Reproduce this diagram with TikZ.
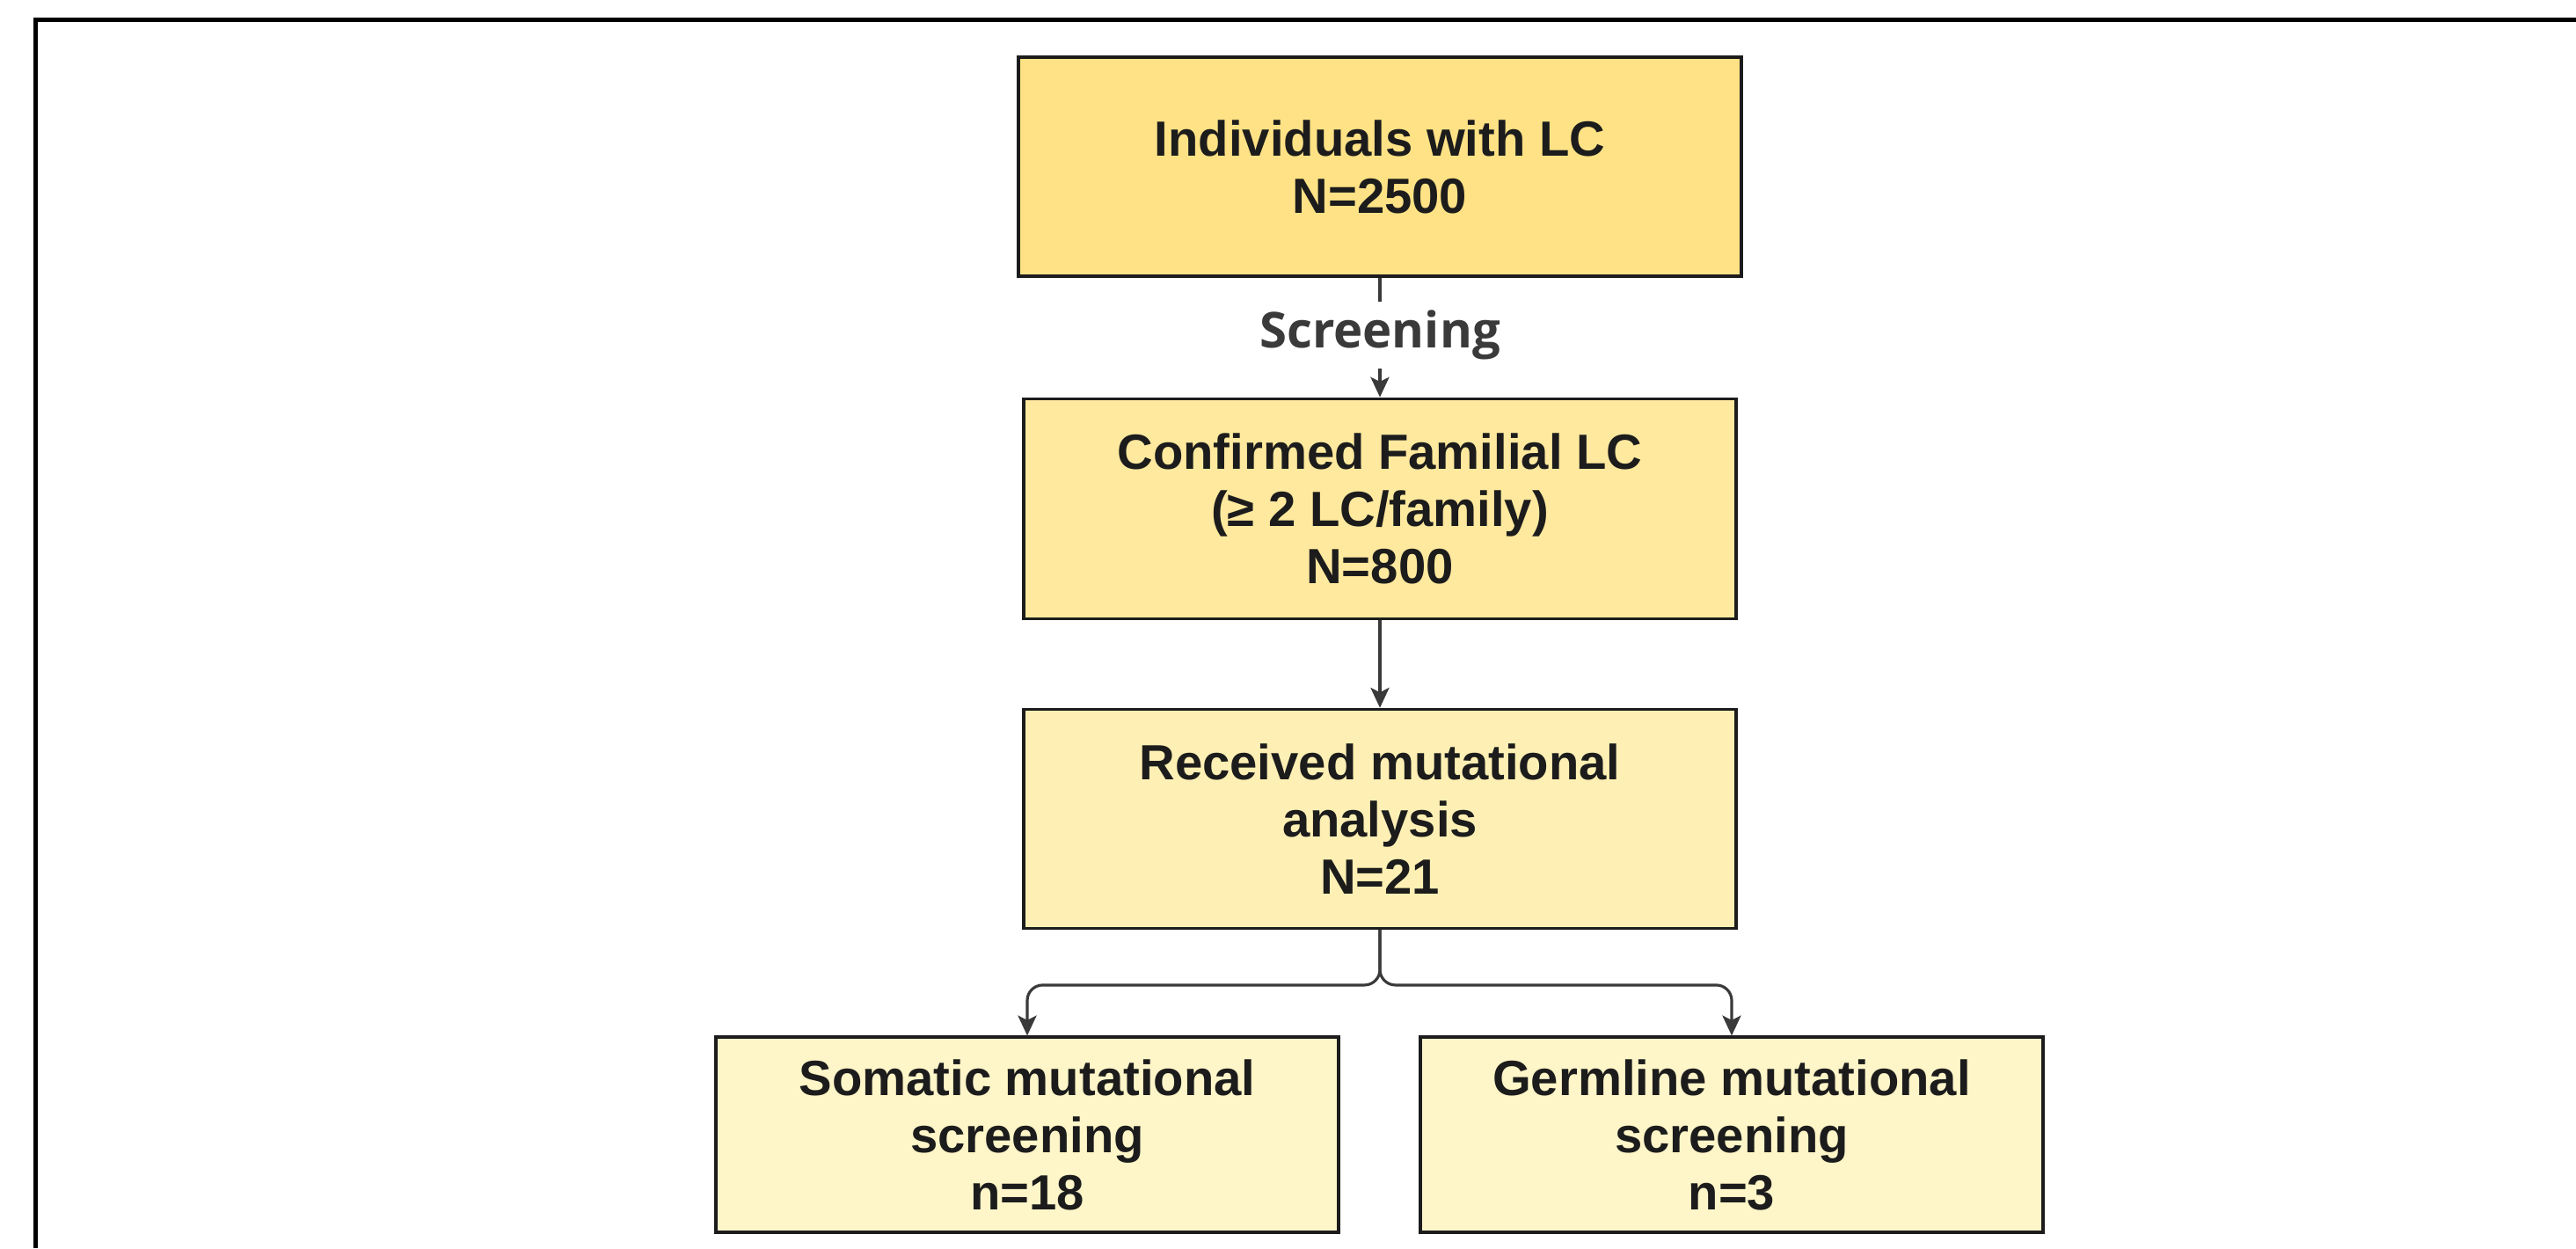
\documentclass[tikz,border=0pt]{standalone}
\usepackage{fontspec}
\setmainfont{Liberation Sans}
\newfontfamily\edgefont{Open Sans}
\usetikzlibrary{arrows.meta, positioning}
\definecolor{boxedge}{HTML}{1C1C1C}
\definecolor{linegray}{HTML}{3A3A3A}
\definecolor{fillA}{HTML}{FEE285}
\definecolor{fillB}{HTML}{FEE99E}
\definecolor{fillC}{HTML}{FEF0B4}
\definecolor{fillD}{HTML}{FEF5C8}
\tikzstyle{arrow} = [line width=0.9pt, draw=linegray, -{Stealth[length=6.5pt, width=6pt, inset=1.5pt]}]

\begin{document}
\begin{tikzpicture}[
    every node/.style={font=\fontsize{16}{18.5}\selectfont\bfseries},
    stage/.style={rectangle, draw=boxedge, line width=0.9pt, minimum width=8.1cm, minimum height=2.49cm, align=center, text=boxedge},
    leaf/.style={stage, minimum width=7.08cm, minimum height=2.22cm, fill=fillD},
    edgelabel/.style={fill=white, text=linegray, inner xsep=2pt, inner ysep=0.1cm, font=\edgefont\fontsize{16}{18}\selectfont\bfseries}
]

    % Frame
    \useasboundingbox (0,0) rectangle (29.29,-14.19);
    \draw[line width=1.5pt] (0.405,-14.19) -- (0.405,-0.225) -- (29.29,-0.225);

    % Main column
    \node[stage, fill=fillA, minimum width=8.22cm] (cohort) at (15.69,-1.895) {Individuals with LC\\N=2500};
    \node[stage, fill=fillB, minimum height=2.5cm] (familial) [below=1.36cm of cohort] {Confirmed Familial LC\\(≥ 2 LC/family)\\N=800};
    \node[stage, fill=fillC] (analysis) [below=1.0cm of familial] {Received mutational\\analysis\\N=21};

    % Screening branches
    \node[leaf] (somatic) at (11.68,-12.90) {Somatic mutational\\screening\\n=18};
    \node[leaf] (germline) at (19.69,-12.90) {Germline mutational\\screening\\n=3};

    % Connectors
    \draw[arrow] (cohort) -- node[edgelabel, pos=0.48] {Screening} (familial);
    \draw[arrow] (familial) -- (analysis);
    \foreach \b in {somatic, germline} {
        \draw[arrow, rounded corners=5pt] (analysis.south) -- ++(0,-0.63) -| (\b.north);
    }

\end{tikzpicture}
\end{document}
